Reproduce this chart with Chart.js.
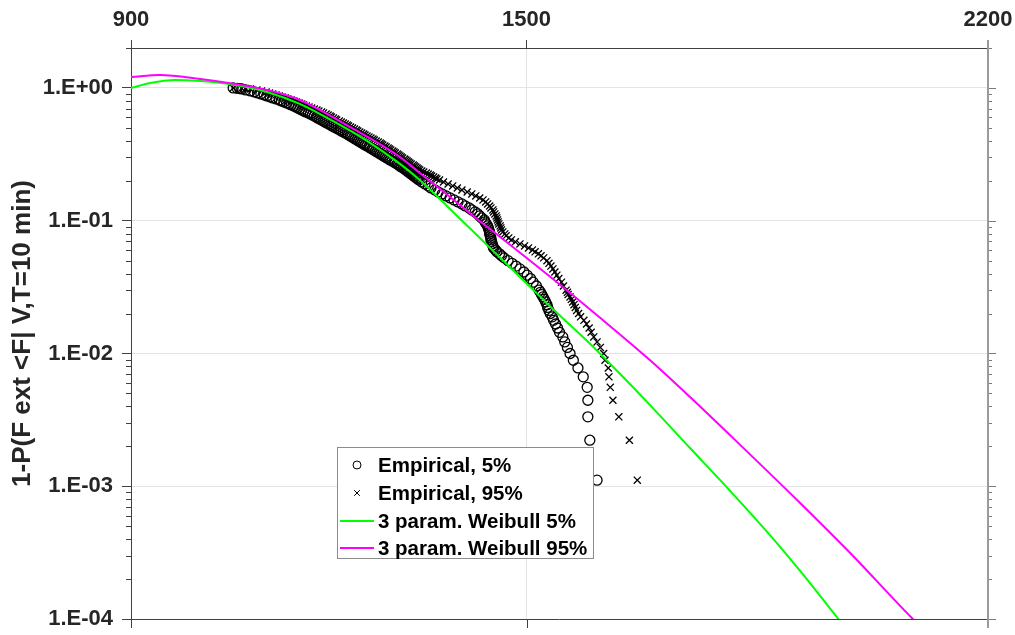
<!DOCTYPE html>
<html>
<head>
<meta charset="utf-8">
<script src="https://cdn.jsdelivr.net/npm/chart.js@4.4.1/dist/chart.umd.min.js"></script>
<style>
  html, body { margin: 0; padding: 0; background: #fff; }
  #wrap { width: 1015px; height: 635px; }
</style>
</head>
<body>
<div id="wrap"><canvas id="chart" width="1015" height="635"></canvas></div>
<script>
// exceedance probability levels, shared by both empirical series
const prob = [
  1.0, 0.9944, 0.9889,
  0.9828, 0.9659, 0.9493, 0.9330, 0.9169, 0.9012, 0.8857, 0.8704, 0.8555, 0.8408,
  0.8263, 0.8121, 0.7981, 0.7844, 0.7709, 0.7577, 0.7446, 0.7318, 0.7192, 0.7069,
  0.6947, 0.6828, 0.6710, 0.6595, 0.6482, 0.6370, 0.6261, 0.6153, 0.6047, 0.5943,
  0.5841, 0.5741, 0.5642, 0.5545, 0.5450, 0.5356, 0.5264, 0.5173, 0.5084, 0.4997,
  0.4911, 0.4827, 0.4744, 0.4662, 0.4582, 0.4503, 0.4426, 0.4350, 0.4275, 0.4201,
  0.4129, 0.4058, 0.3988, 0.3920, 0.3852, 0.3786, 0.3721, 0.3657, 0.3594, 0.3532,
  0.3472, 0.3412, 0.3353, 0.3296, 0.3239, 0.3183, 0.3129, 0.3075, 0.3022, 0.2970,
  0.2919, 0.2869, 0.2819, 0.2771, 0.2723, 0.2676, 0.2630, 0.2585, 0.2541, 0.2497,
  0.2454, 0.2412, 0.2370, 0.2329, 0.2289, 0.2250, 0.2211, 0.2173, 0.2136, 0.2099, 0.2063, 0.2028,
  0.1959, 0.1892, 0.1828, 0.1765, 0.1705, 0.1647, 0.1591, 0.1537, 0.1484, 0.1434,
  0.1385, 0.1338, 0.1292, 0.1248, 0.1206, 0.1165, 0.1125, 0.1087, 0.1050, 0.1014,
  0.0979, 0.0946, 0.0914, 0.0883, 0.0853, 0.0824, 0.0796, 0.0769, 0.0742, 0.0717,
  0.0693, 0.0669, 0.0646, 0.0624, 0.0603, 0.0583, 0.0563, 0.0544, 0.0525,
  0.05, 0.04778, 0.04556, 0.04333, 0.04111, 0.03889, 0.03667, 0.03444, 0.03222, 0.03,
  0.02889, 0.02778, 0.02667, 0.02556, 0.02444, 0.02333, 0.02222, 0.02111, 0.02, 0.01889,
  0.01778, 0.01667, 0.01556, 0.01444, 0.01333, 0.01222, 0.01111, 0.01, 0.008889, 0.007778,
  0.006667, 0.005556, 0.004444, 0.003333, 0.002222, 0.001111
];

// empirical 5% quantiles (circles)
const emp5X = [
  1055, 1061, 1065,
  1068, 1074, 1081, 1087, 1092, 1097, 1102, 1106, 1111, 1115,
  1120, 1125, 1128, 1132, 1136, 1140, 1143, 1147, 1150, 1153,
  1156, 1159, 1162, 1165, 1169, 1172, 1175, 1178, 1181, 1183,
  1186, 1189, 1192, 1194, 1197, 1200, 1203, 1205, 1208, 1211,
  1214, 1217, 1219, 1222, 1225, 1228, 1230, 1233, 1235, 1238,
  1240, 1243, 1245, 1248, 1250, 1253, 1255, 1258, 1261, 1263,
  1266, 1268, 1271, 1273, 1276, 1278, 1281, 1283, 1286, 1288,
  1291, 1293, 1296, 1299, 1301, 1304, 1306, 1308, 1310, 1313,
  1315, 1317, 1319, 1321, 1323, 1325, 1327, 1329, 1331, 1333, 1335, 1337,
  1341, 1346, 1351, 1355, 1361, 1366, 1372, 1378, 1384, 1390,
  1396, 1402, 1407, 1413, 1417, 1422, 1426, 1429, 1432, 1436,
  1437, 1439, 1441, 1442, 1443, 1444, 1444, 1445, 1446, 1446,
  1447, 1448, 1449, 1450, 1453, 1455, 1459, 1462, 1466,
  1472, 1478, 1484, 1490, 1496, 1501, 1506, 1510, 1515, 1519,
  1521, 1523, 1525, 1527, 1529, 1531, 1532, 1534, 1536, 1539,
  1541, 1544, 1547, 1550, 1555, 1558, 1562, 1566, 1571, 1578,
  1586, 1592, 1593, 1593, 1596, 1607
];

// empirical 95% quantiles (crosses)
const emp95X = [
  1055, 1068, 1074,
  1081, 1091, 1098, 1105, 1110, 1115, 1120, 1125, 1129, 1134,
  1138, 1143, 1147, 1151, 1155, 1159, 1162, 1166, 1170, 1174,
  1178, 1182, 1185, 1189, 1192, 1196, 1199, 1202, 1204, 1207,
  1210, 1212, 1216, 1219, 1222, 1225, 1228, 1230, 1233, 1236,
  1239, 1242, 1244, 1247, 1250, 1253, 1255, 1258, 1261, 1264,
  1267, 1269, 1272, 1275, 1278, 1280, 1282, 1285, 1287, 1290,
  1292, 1294, 1297, 1299, 1301, 1304, 1306, 1308, 1310, 1312,
  1315, 1317, 1319, 1321, 1323, 1325, 1328, 1330, 1332, 1334,
  1336, 1338, 1341, 1344, 1348, 1351, 1354, 1356, 1359, 1362, 1364, 1368,
  1374, 1381, 1388, 1395, 1402, 1410, 1417, 1423, 1429, 1434,
  1438, 1441, 1444, 1446, 1449, 1450, 1452, 1454, 1455, 1456,
  1457, 1458, 1460, 1461, 1462, 1464, 1467, 1469, 1473, 1477,
  1483, 1490, 1497, 1503, 1509, 1513, 1518, 1522, 1526,
  1531, 1534, 1537, 1540, 1543, 1546, 1549, 1553, 1556, 1560,
  1562, 1563, 1566, 1568, 1570, 1572, 1574, 1576, 1579, 1582,
  1587, 1591, 1595, 1598, 1602, 1607, 1612, 1617, 1619, 1624,
  1625, 1627, 1631, 1640, 1656, 1668
];

// fitted 3 parameter Weibull, 5%
const weib5X = [900, 929, 967, 1005, 1058, 1106, 1156, 1206, 1258, 1308, 1338, 1392,
  1440, 1490, 1540, 1592, 1642, 1687, 1748, 1809, 1869, 1915, 1973, 1991];
const weib5P = [1.0, 1.09, 1.149, 1.129, 1.053, 0.933, 0.758, 0.564, 0.399, 0.268, 0.203, 0.112,
  0.0657, 0.0377, 0.0216, 0.0124, 0.0070, 0.0041, 0.00194, 0.00092, 0.00043, 0.00023, 0.0001, 0.000077];

// fitted 3 parameter Weibull, 95%
const weib95X = [900, 944, 1005, 1058, 1106, 1156, 1232, 1308, 1338, 1384, 1425, 1460,
  1555, 1612, 1687, 1748, 1824, 1915, 1991, 2086, 2105];
const weib95P = [1.21, 1.253, 1.169, 1.072, 0.966, 0.812, 0.509, 0.302, 0.229, 0.151, 0.103, 0.0754,
  0.0317, 0.0185, 0.00893, 0.0047, 0.00205, 0.000748, 0.000314, 0.0001, 0.0000812];

const xTicks = [900, 1500, 2200];
const yDecades = [1e-4, 1e-3, 1e-2, 1e-1, 1];
const legendLabels = ['Empirical, 5%', 'Empirical, 95%', '3 param. Weibull 5%', '3 param. Weibull 95%'];

const FONT = "'Liberation Sans', Arial, Helvetica, sans-serif";
const AXIS = '#404040';
const GRID = '#e4e4e4';
const TXT = '#262626';

const pts = (xs, ys) => xs.map((x, i) => ({ x: x, y: ys[i] }));

const sciLabel = (v) => {
  const e = Math.round(Math.log10(v));
  return '1.E' + (e < 0 ? '-' : '+') + String(Math.abs(e)).padStart(2, '0');
};

// right/bottom frame, minor log ticks, ticks on the bottom edge
const frame = {
  id: 'frame',
  afterDraw(chart) {
    const { ctx, chartArea: a, scales } = chart;
    const x = scales.x, y = scales.y;
    const seg = (x1, y1, x2, y2) => { ctx.beginPath(); ctx.moveTo(x1, y1); ctx.lineTo(x2, y2); ctx.stroke(); };
    ctx.save();
    ctx.strokeStyle = AXIS;
    ctx.lineWidth = 1;
    seg(a.left, a.bottom + 0.5, a.right, a.bottom + 0.5);
    xTicks.forEach(v => {
      const px = Math.round(x.getPixelForValue(v)) + 0.5;
      seg(px, a.bottom, px, a.bottom + 9);
    });
    yDecades.forEach(d => {
      for (let m = 1; m <= 9; m++) {
        const v = d * m;
        if (v > y.max) break;
        const py = Math.round(y.getPixelForValue(v)) + 0.5;
        ctx.strokeStyle = AXIS;
        if (m > 1) seg(a.left - 5, py, a.left, py);
        ctx.strokeStyle = '#7a7a7a';
        seg(a.right, py, a.right + (m === 1 ? 8 : 4), py);
      }
    });
    ctx.strokeStyle = '#9a9a9a';
    ctx.lineWidth = 2;
    seg(a.right, a.top - 8, a.right, a.bottom + 9);
    ctx.restore();
  }
};

// boxed legend inside the plot
const boxLegend = {
  id: 'boxLegend',
  afterDraw(chart) {
    const { ctx, chartArea: a } = chart;
    const bx = a.left + 206, by = a.top + 399, bw = 256, bh = 111;
    const rows = [18, 46, 74, 101];
    ctx.save();
    ctx.fillStyle = '#fff';
    ctx.fillRect(bx, by, bw, bh);
    ctx.strokeStyle = '#8c8c8c';
    ctx.lineWidth = 1;
    ctx.strokeRect(bx + 0.5, by + 0.5, bw, bh);
    chart.data.datasets.forEach((ds, i) => {
      const cy = by + rows[i];
      if (ds.showLine) {
        ctx.strokeStyle = ds.borderColor;
        ctx.lineWidth = 2;
        ctx.beginPath(); ctx.moveTo(bx + 3, cy); ctx.lineTo(bx + 37, cy); ctx.stroke();
      } else {
        ctx.strokeStyle = '#000';
        ctx.fillStyle = 'rgba(0,0,0,0)';
        ctx.lineWidth = 1;
        Chart.helpers.drawPoint(ctx, { pointStyle: ds.pointStyle, radius: 4, rotation: 0, borderWidth: 1 }, bx + 20, cy);
      }
      ctx.fillStyle = '#000';
      ctx.font = 'bold 20.5px ' + FONT;
      ctx.textBaseline = 'middle';
      ctx.textAlign = 'left';
      ctx.fillText(legendLabels[i], bx + 41, cy + 1);
    });
    ctx.restore();
  }
};

new Chart(document.getElementById('chart'), {
  type: 'scatter',
  data: {
    datasets: [
      {
        label: legendLabels[0],
        data: pts(emp5X, prob),
        pointStyle: 'circle',
        pointRadius: 5,
        borderColor: '#000',
        backgroundColor: 'rgba(0,0,0,0)',
        borderWidth: 1.3,
        showLine: false,
        order: 3
      },
      {
        label: legendLabels[1],
        data: pts(emp95X, prob),
        pointStyle: 'crossRot',
        pointRadius: 5,
        borderColor: '#000',
        backgroundColor: 'rgba(0,0,0,0)',
        borderWidth: 1.3,
        showLine: false,
        order: 2
      },
      {
        label: legendLabels[2],
        data: pts(weib5X, weib5P),
        showLine: true,
        borderColor: '#00ff00',
        borderWidth: 2,
        pointRadius: 0,
        cubicInterpolationMode: 'monotone',
        order: 1
      },
      {
        label: legendLabels[3],
        data: pts(weib95X, weib95P),
        showLine: true,
        borderColor: '#ff00ff',
        borderWidth: 2,
        pointRadius: 0,
        cubicInterpolationMode: 'monotone',
        order: 0
      }
    ]
  },
  options: {
    responsive: false,
    animation: false,
    events: [],
    layout: { padding: { top: 0, left: 0, right: 27, bottom: 16 } },
    plugins: {
      legend: { display: false },
      tooltip: { enabled: false }
    },
    scales: {
      x: {
        type: 'linear',
        position: 'top',
        min: 900,
        max: 2200,
        afterBuildTicks: s => { s.ticks = xTicks.map(v => ({ value: v })); },
        afterFit: s => { s.height = 48; s.paddingLeft = 0; s.paddingRight = 0; },
        ticks: {
          autoSkip: false,
          maxRotation: 0,
          padding: 7,
          color: TXT,
          font: { family: FONT, size: 22, weight: 'bold' },
          callback: v => String(v)
        },
        grid: { color: GRID, tickColor: AXIS, tickLength: 8, lineWidth: 1 },
        border: { color: AXIS, width: 1 }
      },
      y: {
        type: 'logarithmic',
        position: 'left',
        min: 1e-4,
        max: 2,
        afterBuildTicks: s => { s.ticks = yDecades.map(v => ({ value: v, major: true })); },
        afterFit: s => { s.width = 131; s.paddingTop = 0; s.paddingBottom = 0; },
        ticks: {
          autoSkip: false,
          padding: 9,
          color: TXT,
          font: { family: FONT, size: 22, weight: 'bold' },
          callback: v => sciLabel(v)
        },
        grid: { color: GRID, tickColor: AXIS, tickLength: 9, lineWidth: 1 },
        border: { color: AXIS, width: 1 },
        title: {
          display: true,
          text: '1-P(F ext <F| V,T=10 min)',
          color: TXT,
          font: { family: FONT, size: 26, weight: 'bold' },
          padding: { top: 7, bottom: 0 }
        }
      }
    }
  },
  plugins: [frame, boxLegend]
});
</script>
</body>
</html>
